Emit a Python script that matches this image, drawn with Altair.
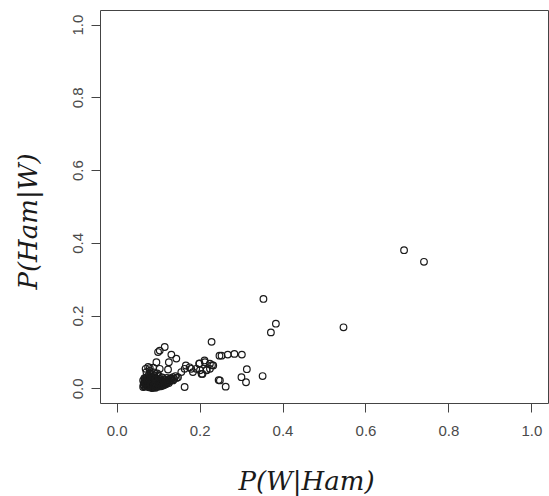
import altair as alt
import pandas as pd

# P(W|Ham) values (x) and P(Ham|W) values (y)
x_vals = [
    0.693, 0.741, 0.354, 0.384, 0.372, 0.547, 0.229, 0.248, 0.253, 0.268,
    0.284, 0.302, 0.314, 0.301, 0.312, 0.352, 0.246, 0.263, 0.212, 0.230,
    0.217, 0.207, 0.200, 0.116, 0.104, 0.100, 0.132, 0.144, 0.126, 0.096,
    0.076, 0.088, 0.104, 0.124, 0.167, 0.205, 0.192, 0.176, 0.184, 0.164,
    0.156, 0.148, 0.132, 0.136, 0.164, 0.249, 0.070, 0.080, 0.180, 0.199,
    0.213, 0.225, 0.233, 0.201, 0.217, 0.225,
    0.065, 0.067, 0.068, 0.070, 0.070, 0.072, 0.072, 0.074, 0.075, 0.076,
    0.077, 0.078, 0.079, 0.080, 0.081, 0.082, 0.083, 0.084, 0.085, 0.086,
    0.087, 0.088, 0.089, 0.090, 0.091, 0.092, 0.093, 0.094, 0.095, 0.096,
    0.097, 0.098, 0.099, 0.100, 0.101, 0.102, 0.104, 0.105, 0.106, 0.108,
    0.110, 0.111, 0.113, 0.115, 0.117, 0.119, 0.121, 0.123, 0.125, 0.128,
    0.130, 0.133, 0.136, 0.139, 0.142, 0.145, 0.072, 0.080, 0.090, 0.098,
    0.085, 0.094, 0.066, 0.069, 0.073, 0.078, 0.083, 0.088, 0.092, 0.107,
    0.064, 0.066, 0.068, 0.071, 0.073, 0.075, 0.077, 0.079, 0.081, 0.083,
    0.085, 0.087, 0.089, 0.091, 0.093, 0.095, 0.097, 0.099, 0.101, 0.103,
    0.105, 0.107, 0.109, 0.112, 0.114, 0.116, 0.118, 0.120, 0.122, 0.126,
    0.064, 0.067, 0.070, 0.074, 0.078, 0.082, 0.086, 0.090, 0.094, 0.102,
]
y_vals = [
    0.380, 0.348, 0.246, 0.178, 0.154, 0.168, 0.128, 0.090, 0.090, 0.093,
    0.095, 0.093, 0.053, 0.031, 0.017, 0.034, 0.023, 0.005, 0.077, 0.064,
    0.051, 0.040, 0.069, 0.114, 0.104, 0.100, 0.093, 0.082, 0.072, 0.072,
    0.059, 0.057, 0.054, 0.052, 0.063, 0.040, 0.054, 0.058, 0.045, 0.054,
    0.045, 0.031, 0.027, 0.022, 0.004, 0.022, 0.054, 0.056, 0.054, 0.068,
    0.072, 0.068, 0.063, 0.050, 0.050, 0.054,
    0.010, 0.018, 0.025, 0.005, 0.013, 0.020, 0.030, 0.008, 0.015, 0.022,
    0.035, 0.003, 0.012, 0.018, 0.026, 0.040, 0.008, 0.014, 0.021, 0.030,
    0.002, 0.011, 0.017, 0.024, 0.036, 0.007, 0.013, 0.020, 0.028, 0.010,
    0.016, 0.023, 0.032, 0.005, 0.012, 0.019, 0.026, 0.009, 0.015, 0.022,
    0.030, 0.012, 0.018, 0.025, 0.014, 0.021, 0.029, 0.017, 0.024, 0.020,
    0.028, 0.023, 0.031, 0.026, 0.034, 0.029, 0.045, 0.048, 0.044, 0.041,
    0.001, 0.002, 0.006, 0.016, 0.011, 0.028, 0.020, 0.009, 0.026, 0.006,
    0.004, 0.014, 0.021, 0.009, 0.017, 0.027, 0.006, 0.020, 0.010, 0.024,
    0.004, 0.019, 0.007, 0.015, 0.004, 0.017, 0.007, 0.014, 0.022, 0.009,
    0.017, 0.011, 0.019, 0.008, 0.023, 0.010, 0.018, 0.012, 0.020, 0.015,
    0.022, 0.028, 0.016, 0.024, 0.029, 0.033, 0.027, 0.031, 0.024, 0.035,
]
tick_values = [0.0, 0.2, 0.4, 0.6, 0.8, 1.0]

df = pd.DataFrame({"x": x_vals, "y": y_vals})

axis_common = dict(
    values=tick_values,
    format=".1f",
    grid=False,
    domain=False,
    ticks=True,
    tickSize=9,
    tickColor="#444444",
    tickWidth=1,
    labelFont="Liberation Sans",
    labelFontSize=15,
    labelColor="#4a4a4a",
    titleFont="DejaVu Serif",
    titleFontStyle="italic",
    titleFontWeight="normal",
    titleFontSize=26,
    titleColor="#1a1a1a",
    titleAlign="center",
    titleBaseline="middle",
)

chart = (
    alt.Chart(df)
    .mark_point(shape="circle", filled=False, size=44, strokeWidth=1.2, color="#1a1a1a", opacity=1)
    .encode(
        x=alt.X(
            "x:Q",
            scale=alt.Scale(domain=[-0.04, 1.04], nice=False, zero=False),
            axis=alt.Axis(
                title="P(W|Ham)",
                labelPadding=11,
                titleX=206,
                titleY=78,
                **axis_common,
            ),
        ),
        y=alt.Y(
            "y:Q",
            scale=alt.Scale(domain=[-0.04, 1.04], nice=False, zero=False),
            axis=alt.Axis(
                title="P(Ham|W)",
                labelAngle=270,
                labelAlign="center",
                labelBaseline="alphabetic",
                labelPadding=9,
                titleAngle=270,
                titleX=-72,
                titleY=211,
                **axis_common,
            ),
        ),
    )
    .properties(
        width=448,
        height=393,
        autosize=alt.AutoSizeParams(type="none"),
        padding={"left": 100, "top": 10, "right": 1, "bottom": 93},
        background="white",
    )
    .configure_view(stroke="#444444", strokeWidth=1, fill="white")
)

chart.save("out.html", embed_options={"renderer": "svg", "actions": False})
